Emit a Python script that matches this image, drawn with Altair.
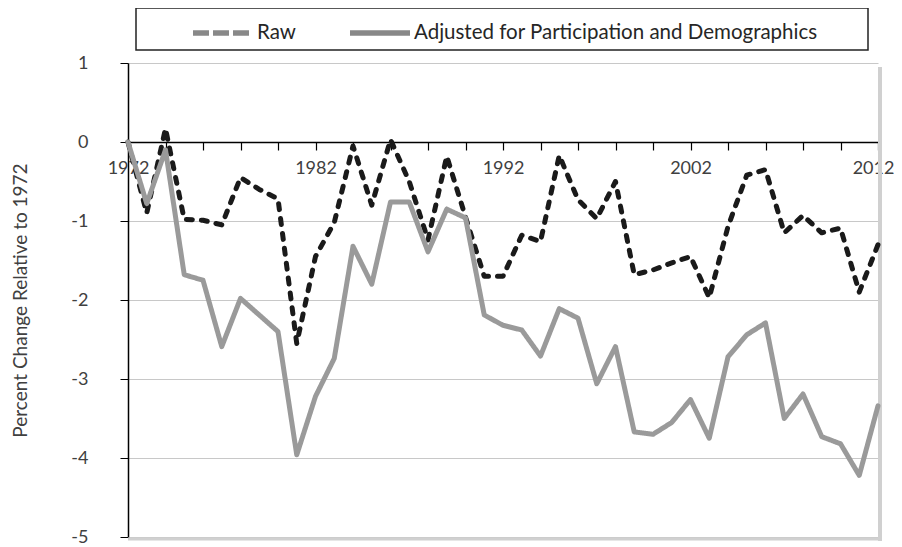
import altair as alt
import pandas as pd

years = list(range(1972, 2013))
raw = [0.00, -0.90, 0.17, -0.98, -0.99, -1.05, -0.45, -0.60, -0.72, -2.55,
       -1.45, -1.02, -0.05, -0.80, 0.03, -0.50, -1.24, -0.18, -0.95, -1.70,
       -1.70, -1.18, -1.26, -0.17, -0.73, -0.97, -0.50, -1.68, -1.62, -1.53,
       -1.45, -1.97, -1.07, -0.42, -0.35, -1.15, -0.93, -1.15, -1.09, -1.90,
       -1.30]
adjusted = [0.00, -0.78, -0.10, -1.68, -1.75, -2.59, -1.98, -2.19, -2.40, -3.96,
            -3.22, -2.74, -1.32, -1.80, -0.76, -0.76, -1.39, -0.85, -0.96, -2.19,
            -2.32, -2.38, -2.71, -2.11, -2.23, -3.06, -2.59, -3.67, -3.70, -3.55,
            -3.26, -3.75, -2.72, -2.44, -2.29, -3.50, -3.19, -3.73, -3.82, -4.22,
            -3.34]
series_names = ["Raw", "Adjusted for Participation and Demographics"]
y_ticks = [-5, -4, -3, -2, -1, 0, 1]
x_ticks = list(range(1972, 2013, 2))

df = pd.DataFrame({
    "year": years * 2,
    "value": raw + adjusted,
    "series": [series_names[0]] * len(years) + [series_names[1]] * len(years),
})

W, H = 750, 474
FONT = "Lato"
zero_px = H * (1 - 0) / (1 - (-5))

leg = alt.Legend(
    orient="none", legendX=62, legendY=-63, direction="horizontal", title=None,
    symbolType="stroke", symbolSize=3600, symbolStrokeWidth=5.5, symbolOpacity=1,
    labelFont=FONT, labelFontSize=20.5, labelColor="#262626", labelLimit=0,
    labelOffset=1, columnPadding=43, padding=0,
)

x_enc = alt.X("year:Q", scale=alt.Scale(domain=[1972, 2012], nice=False, zero=False),
              axis=alt.Axis(values=x_ticks, format="d",
                            labelExpr="(datum.value - 1972) % 10 == 0 ? datum.label : ''",
                            labelOffset={"expr": "datum.value == 2012 ? -5 : 0"},
                            offset=-(H - zero_px), grid=False, tickSize=8, tickColor="#000",
                            tickWidth=1.2, domainColor="#000", domainWidth=1.5,
                            labelPadding=9, labelFlush=False, labelOverlap=False,
                            labelFont=FONT, labelFontSize=18, labelColor="#404040",
                            title=None))
y_enc = alt.Y("value:Q", scale=alt.Scale(domain=[-5, 1], nice=False),
              axis=alt.Axis(values=y_ticks, grid=True, gridColor="#c8c8c8", gridWidth=1,
                            labelExpr="'' + datum.value",
                            tickSize=8, tickColor="#000", domainColor="#000", domainWidth=1.5,
                            labelPadding=32, labelFont=FONT, labelFontSize=18,
                            labelColor="#404040",
                            title="Percent Change Relative to 1972", titleFont=FONT,
                            titleFontSize=19, titleFontWeight="normal", titleColor="#404040",
                            titleX=-108, titleY=H / 2, titleAngle=-90,
                            titleBaseline="middle", titleAlign="center"))
color_scale = alt.Scale(domain=series_names, range=["#1a1a1a", "#9a9a9a"])

lines = alt.Chart(df).mark_line(strokeWidth=5, strokeCap="round", strokeJoin="round").encode(
    x=x_enc, y=y_enc,
    color=alt.Color("series:N", scale=color_scale, legend=None),
    strokeDash=alt.StrokeDash("series:N", scale=alt.Scale(domain=series_names, range=[[6, 9], [1, 0]]),
                              legend=None),
)

legend_layer = alt.Chart(df).transform_filter("datum.year < 0").mark_line(strokeWidth=5).encode(
    x=x_enc, y=y_enc,
    color=alt.Color("series:N", scale=color_scale, legend=leg),
    strokeDash=alt.StrokeDash("series:N", scale=alt.Scale(domain=series_names, range=[[16, 4], [1, 0]]),
                              legend=leg),
)

one = pd.DataFrame({"a": [0]})
box = alt.Chart(one).mark_rect(fill="white", stroke="#222", strokeWidth=1.5).encode(
    x=alt.value(8), x2=alt.value(740), y=alt.value(-55), y2=alt.value(-13))
shadow_r = alt.Chart(one).mark_rule(color="#d0d0d0", strokeWidth=4).encode(
    x=alt.value(W + 2), y=alt.value(4), y2=alt.value(H + 4))
shadow_b = alt.Chart(one).mark_rule(color="#d0d0d0", strokeWidth=3).encode(
    y=alt.value(H + 2), x=alt.value(0), x2=alt.value(W + 4))

chart = alt.layer(box, shadow_r, shadow_b, lines, legend_layer).resolve_scale(
    strokeDash="independent"
).properties(
    width=W, height=H,
    autosize=alt.AutoSizeParams(type="none"),
    padding={"left": 120, "top": 55, "right": 16, "bottom": 10},
).configure_view(strokeWidth=0)

chart.save("out.html", embed_options={"renderer": "svg", "actions": False})
